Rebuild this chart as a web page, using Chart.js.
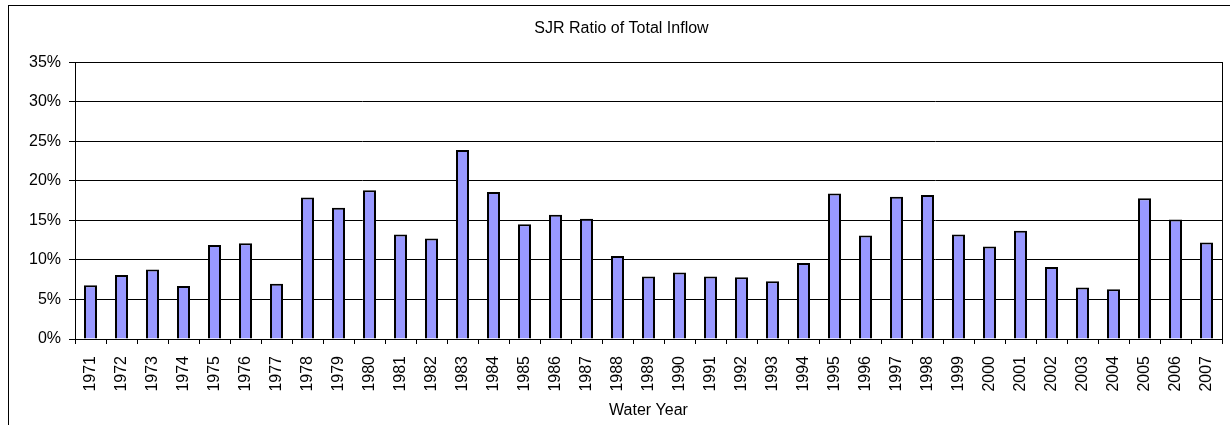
<!DOCTYPE html>
<html>
<head>
<meta charset="utf-8">
<script src="https://cdn.jsdelivr.net/npm/chart.js@4"></script>
<style>
  body { margin: 0; overflow: hidden; background: #fff; }
  #frame { position: absolute; left: 8px; top: 5px; width: 1400px; height: 600px;
           border-left: 1px solid #000; border-top: 1px solid #000; }
  #chart { position: absolute; left: 0; top: 0; }
</style>
</head>
<body>
<div id="frame"></div>
<canvas id="chart" width="1230" height="425"></canvas>
<script>
const years = ['1971','1972','1973','1974','1975','1976','1977','1978','1979','1980',
  '1981','1982','1983','1984','1985','1986','1987','1988','1989','1990',
  '1991','1992','1993','1994','1995','1996','1997','1998','1999','2000',
  '2001','2002','2003','2004','2005','2006','2007'];
const sjrRatio = [6.8, 8.1, 8.8, 6.7, 11.9, 12.1, 7.0, 17.9, 16.6, 18.8,
  13.2, 12.7, 23.9, 18.6, 14.5, 15.7, 15.2, 10.5, 7.9, 8.4,
  7.9, 7.8, 7.3, 9.6, 18.4, 13.1, 18.0, 18.2, 13.2, 11.7,
  13.7, 9.1, 6.5, 6.3, 17.8, 15.1, 12.2];
const yMax = 35;
const yStep = 5;

const font = { family: "'Liberation Sans', Arial, sans-serif", size: 16, weight: 'normal' };

// box round the plot area (top and right sides come from here)
const plotBorder = {
  id: 'plotBorder',
  afterDraw(chart) {
    const a = chart.chartArea, ctx = chart.ctx;
    ctx.save();
    ctx.strokeStyle = '#000';
    ctx.lineWidth = 1;
    ctx.strokeRect(Math.round(a.left) + 0.5, Math.round(a.top) + 0.5,
      Math.round(a.right - a.left), Math.round(a.bottom - a.top));
    ctx.restore();
  }
};

new Chart(document.getElementById('chart'), {
  type: 'bar',
  data: {
    labels: years,
    datasets: [{
      label: 'SJR Ratio',
      data: sjrRatio,
      backgroundColor: '#9999FF',
      borderColor: '#000',
      borderWidth: 2,
      barPercentage: 13 / 31,
      categoryPercentage: 1
    }]
  },
  options: {
    responsive: false,
    animation: false,
    layout: { padding: { left: 21, right: 8, top: 0, bottom: 0 } },
    plugins: {
      legend: { display: false },
      tooltip: { enabled: false },
      title: {
        display: true,
        text: 'SJR Ratio of Total Inflow',
        color: '#000',
        font: font,
        padding: { top: 19, bottom: 24 }
      }
    },
    scales: {
      x: {
        grid: { drawOnChartArea: false, drawTicks: true, tickLength: 5, color: '#000', offset: true },
        border: { color: '#000' },
        ticks: { color: '#000', font: font, autoSkip: false, minRotation: 90, maxRotation: 90, padding: 12 },
        title: { display: true, text: 'Water Year', color: '#000', font: font, padding: { top: 0, bottom: 5 } },
        afterFit(scale) {
          scale.height = 86;
          scale.paddingLeft = 0;
          scale.paddingRight = 0;
        }
      },
      y: {
        min: 0,
        max: yMax,
        ticks: { stepSize: yStep, color: '#000', font: font, padding: 8, callback: v => v + '%' },
        grid: { color: '#000', tickLength: 6 },
        border: { color: '#000' },
        afterFit(scale) { scale.width = 54; }
      }
    }
  },
  plugins: [plotBorder]
});
</script>
</body>
</html>
